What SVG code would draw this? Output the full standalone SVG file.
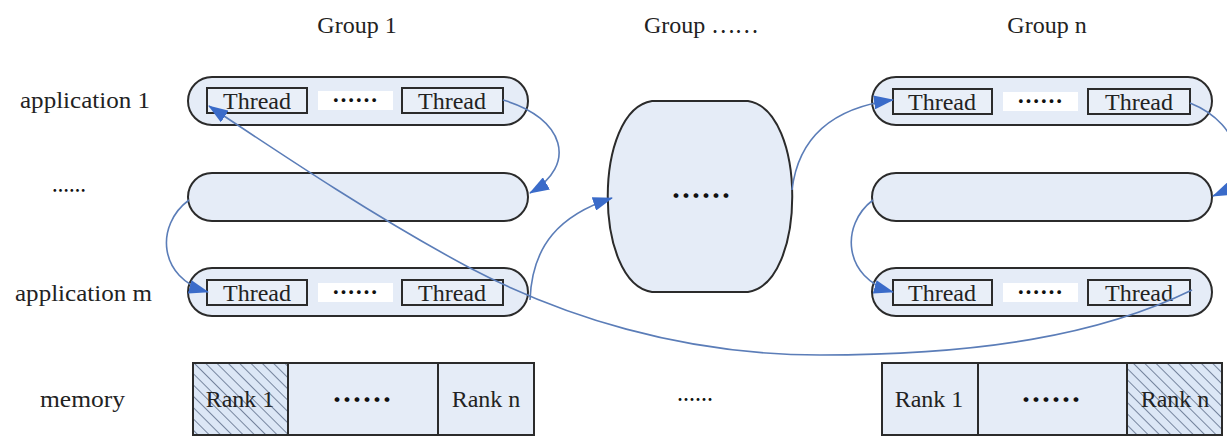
<svg xmlns="http://www.w3.org/2000/svg" width="1227" height="437" viewBox="0 0 1227 437">
<style>
text{font-family:"Liberation Serif","Noto Sans CJK SC",serif;fill:#222;}
.lbl{font-size:24px;}
.ttl{font-size:24px;text-anchor:middle;}
.thr{font-size:24px;text-anchor:middle;}
.dots{font-family:"Noto Sans CJK SC",sans-serif;text-anchor:middle;fill:#111;}
.pill{fill:#E5ECF7;stroke:#2b2b2b;stroke-width:2;}
.tbox{fill:#E9EFF8;stroke:#2b2b2b;stroke-width:2;}
.wbg{fill:#FFFFFF;}
.cell{fill:#E5ECF7;stroke:#2b2b2b;stroke-width:2;}
.hatch{fill:url(#hatch);stroke:#2b2b2b;stroke-width:2;}
.conn{fill:none;stroke:#5B7DB8;stroke-width:1.6;marker-end:url(#arr);}
</style>
<defs>
<marker id="arr" viewBox="0 0 20 14" refX="19" refY="7" markerWidth="20" markerHeight="14" markerUnits="userSpaceOnUse" orient="auto">
<path d="M0,0 L20,7 L0,14 Z" fill="#3A6BC9"/>
</marker>
<pattern id="hatch" patternUnits="userSpaceOnUse" width="8" height="8" patternTransform="rotate(-45)">
<rect width="8" height="8" fill="#DCE7F6"/>
<line x1="0" y1="0" x2="0" y2="8" stroke="#4A5A78" stroke-width="1.4"/>
</pattern>
</defs>
<rect width="1227" height="437" fill="#FFFFFF"/>

<g id="titles">
<text class="ttl" x="357" y="33">Group 1</text>
<text class="ttl" x="701" y="33">Group <tspan font-family="Noto Sans CJK SC" font-size="22">……</tspan></text>
<text class="ttl" x="1047" y="33">Group n</text>
</g>

<g id="row-labels">
<text class="lbl" x="20" y="108" textLength="130" lengthAdjust="spacingAndGlyphs">application 1</text>
<text class="dots" x="69" y="197" style="font-size:17px;font-weight:bold">……</text>
<text class="lbl" x="15" y="301" textLength="137" lengthAdjust="spacingAndGlyphs">application m</text>
<text class="lbl" x="40" y="407" textLength="85" lengthAdjust="spacingAndGlyphs">memory</text>
</g>

<g id="g1-app1">
<rect class="pill" x="188" y="77" width="340" height="48" rx="24"/>
<rect class="tbox" x="207" y="88" width="100" height="25"/>
<text class="thr" x="257" y="109">Thread</text>
<rect class="wbg" x="318" y="91" width="75" height="19"/>
<text class="dots" x="355" y="109" style="font-size:23px;font-weight:bold">……</text>
<rect class="tbox" x="402" y="88" width="101" height="25"/>
<text class="thr" x="452" y="109">Thread</text>
</g>
<g id="g1-app2">
<rect class="pill" x="188" y="173" width="340" height="48" rx="24"/>
</g>
<g id="g1-appm">
<rect class="pill" x="188" y="268" width="340" height="48" rx="24"/>
<rect class="tbox" x="207" y="280" width="100" height="25"/>
<text class="thr" x="257" y="301">Thread</text>
<rect class="wbg" x="318" y="283" width="75" height="19"/>
<text class="dots" x="355" y="301" style="font-size:23px;font-weight:bold">……</text>
<rect class="tbox" x="402" y="280" width="101" height="25"/>
<text class="thr" x="452" y="301">Thread</text>
</g>

<g id="group-mid">
<path class="pill" d="M652,101 H748 C807,110 807,283 748,292 H652 C593,283 593,110 652,101 Z"/>
<text class="dots" x="701" y="207" style="font-size:30px;font-weight:bold">……</text>
</g>

<g id="gn-app1">
<rect class="pill" x="872" y="77" width="340" height="48" rx="24"/>
<rect class="tbox" x="893" y="89" width="99" height="25"/>
<text class="thr" x="942" y="110">Thread</text>
<rect class="wbg" x="1003" y="92" width="75" height="19"/>
<text class="dots" x="1040" y="110" style="font-size:23px;font-weight:bold">……</text>
<rect class="tbox" x="1088" y="89" width="102" height="25"/>
<text class="thr" x="1139" y="110">Thread</text>
</g>
<g id="gn-app2">
<rect class="pill" x="872" y="173" width="340" height="48" rx="24"/>
</g>
<g id="gn-appm">
<rect class="pill" x="872" y="268" width="340" height="48" rx="24"/>
<rect class="tbox" x="893" y="280" width="99" height="25"/>
<text class="thr" x="942" y="301">Thread</text>
<rect class="wbg" x="1003" y="283" width="75" height="19"/>
<text class="dots" x="1040" y="301" style="font-size:23px;font-weight:bold">……</text>
<rect class="tbox" x="1088" y="280" width="102" height="25"/>
<text class="thr" x="1139" y="301">Thread</text>
</g>

<g id="mem-g1">
<rect class="hatch" x="193" y="363" width="95" height="72"/>
<rect class="cell" x="288" y="363" width="150" height="72"/>
<rect class="cell" x="438" y="363" width="96" height="72"/>
<text class="thr" x="240" y="407">Rank 1</text>
<text class="dots" x="362" y="411" style="font-size:30px;font-weight:bold">……</text>
<text class="thr" x="486" y="407">Rank n</text>
</g>
<g id="mem-mid">
<text class="dots" x="695" y="406" style="font-size:18px;font-weight:bold">……</text>
</g>
<g id="mem-gn">
<rect class="cell" x="882" y="363" width="96" height="72"/>
<rect class="cell" x="978" y="363" width="149" height="72"/>
<rect class="hatch" x="1127" y="363" width="95" height="72"/>
<text class="thr" x="929" y="407">Rank 1</text>
<text class="dots" x="1051" y="411" style="font-size:30px;font-weight:bold">……</text>
<text class="thr" x="1175" y="407">Rank n</text>
</g>

<g id="connectors">
<path class="conn" d="M503,100 C565,118 578,165 530,193"/>
<path class="conn" d="M530,300 C532,245 560,215 612,198"/>
<path class="conn" d="M792,190 C798,140 830,108 893,100"/>
<path class="conn" d="M189,200 C155,225 158,278 208,292"/>
<path class="conn" d="M873,200 C840,225 843,278 893,292"/>
<path class="conn" d="M1190,103 C1245,125 1250,180 1213,196"/>
<path class="conn" d="M1192,290 C1100,335 980,355 820,355 C680,355 560,315 470,268 C380,220 290,160 209,106"/>
</g>
</svg>
